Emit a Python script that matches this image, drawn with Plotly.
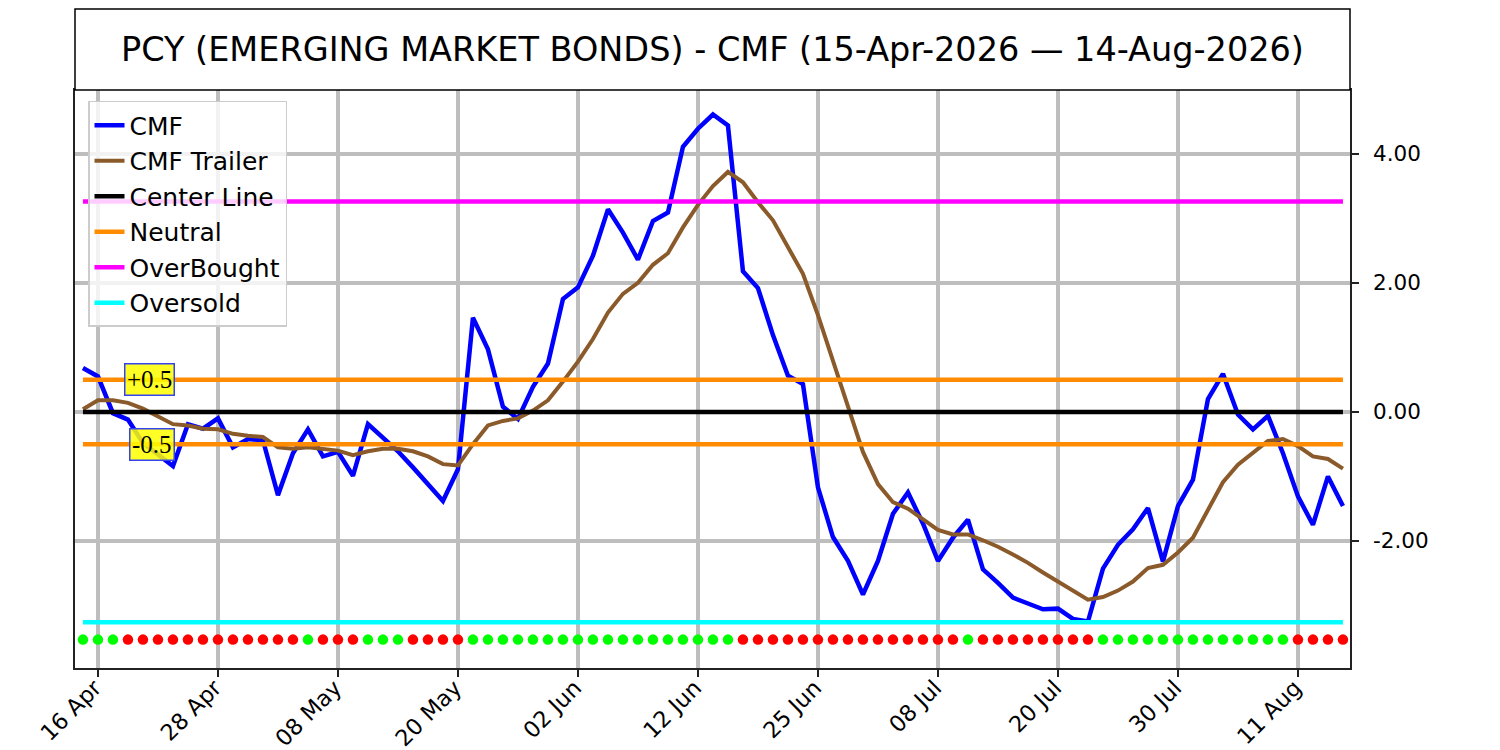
import plotly.graph_objects as go
import pandas as pd

# trading days 15-Apr-2026 .. 14-Aug-2026 (US market holidays removed)
holidays = ["2026-05-25", "2026-06-19", "2026-07-03"]
days = pd.bdate_range("2026-04-15", "2026-08-14")
days = days[~days.isin(pd.to_datetime(holidays))]
dates = [d.strftime("%Y-%m-%d") for d in days]

cmf = [0.68, 0.55, -0.02, -0.12, -0.48, -0.66, -0.84, -0.19, -0.26, -0.10,
       -0.55, -0.42, -0.44, -1.29, -0.64, -0.27, -0.69, -0.62, -0.99, -0.19,
       -0.39, -0.61, -0.86, -1.11, -1.38, -0.89, 1.46, 0.97, 0.08, -0.11,
       0.39, 0.75, 1.75, 1.93, 2.42, 3.14, 2.78, 2.36, 2.96, 3.09,
       4.11, 4.39, 4.61, 4.44, 2.18, 1.92, 1.19, 0.56, 0.43, -1.17,
       -1.94, -2.31, -2.83, -2.31, -1.58, -1.25, -1.73, -2.31, -1.95, -1.67,
       -2.44, -2.65, -2.88, -2.97, -3.06, -3.05, -3.21, -3.25, -2.43, -2.06,
       -1.82, -1.49, -2.32, -1.46, -1.05, 0.20, 0.59, -0.04, -0.27, -0.06,
       -0.64, -1.31, -1.75, -1.00, -1.46]

trailer = [0.04, 0.18, 0.18, 0.14, 0.05, -0.07, -0.19, -0.21, -0.26, -0.27,
           -0.34, -0.37, -0.39, -0.55, -0.57, -0.55, -0.58, -0.60, -0.67, -0.61,
           -0.57, -0.57, -0.61, -0.69, -0.81, -0.83, -0.50, -0.21, -0.14, -0.10,
           0.02, 0.18, 0.47, 0.78, 1.13, 1.54, 1.83, 2.00, 2.28, 2.46,
           2.86, 3.21, 3.50, 3.72, 3.56, 3.25, 2.97, 2.56, 2.14, 1.50,
           0.78, 0.05, -0.62, -1.12, -1.40, -1.50, -1.66, -1.83, -1.90, -1.90,
           -1.99, -2.09, -2.21, -2.34, -2.49, -2.63, -2.78, -2.91, -2.87, -2.77,
           -2.63, -2.42, -2.37, -2.18, -1.95, -1.51, -1.09, -0.82, -0.64, -0.45,
           -0.42, -0.53, -0.69, -0.73, -0.88]

# daily signal dots along the bottom: g = green, r = red
signal = (["g"] * 3 + ["r"] * 12 + ["g"] + ["r"] * 3 + ["g"] * 3 + ["r"] * 4
          + ["g"] * 18 + ["r"] * 15 + ["g"] + ["r"] * 8 + ["g"] * 13 + ["r"] * 4)

center_level = 0.0
neutral_levels = [0.5, -0.5]
overbought_level = 3.26
oversold_level = -3.26
dot_level = -3.53

tick_dates = dates[1::8]
tick_text = [pd.Timestamp(d).strftime("%d %b") for d in tick_dates]
y_ticks = [-2, 0, 2, 4]
y_tick_text = [f"{v:.2f}" for v in y_ticks]  # plain hyphen for negatives

font = "DejaVu Sans"
first, last = dates[0], dates[-1]

fig = go.Figure()

fig.add_trace(go.Scatter(x=dates, y=cmf, mode="lines", name="CMF",
                         line=dict(color="#0000ff", width=4.5)))
fig.add_trace(go.Scatter(x=dates, y=trailer, mode="lines", name="CMF Trailer",
                         line=dict(color="#8b5a2b", width=4)))
fig.add_trace(go.Scatter(x=[first, last], y=[center_level] * 2, mode="lines",
                         name="Center Line", line=dict(color="black", width=4.5)))
fig.add_trace(go.Scatter(
    x=[first, last, None, first, last],
    y=[neutral_levels[0]] * 2 + [None] + [neutral_levels[1]] * 2,
    mode="lines", name="Neutral", line=dict(color="#ff8c00", width=4.5)))
fig.add_trace(go.Scatter(x=[first, last], y=[overbought_level] * 2, mode="lines",
                         name="OverBought", line=dict(color="#ff00ff", width=4.5)))
fig.add_trace(go.Scatter(x=[first, last], y=[oversold_level] * 2, mode="lines",
                         name="Oversold", line=dict(color="#00ffff", width=4.5)))

# signal dots
dot_colors = ["#00ff00" if s == "g" else "#ff0000" for s in signal]
fig.add_trace(go.Scatter(x=dates, y=[dot_level] * len(dates), mode="markers",
                         marker=dict(color=dot_colors, size=10.5),
                         showlegend=False, hoverinfo="skip"))

# +0.5 / -0.5 labels
for lvl, txt in zip(neutral_levels, ["+0.5", "-0.5"]):
    fig.add_annotation(x=6.13, y=lvl, xref="x", yref="y", text=txt,
                       showarrow=False, xanchor="right", yanchor="middle",
                       font=dict(family="Liberation Serif", size=25, color="black"),
                       bgcolor="rgba(255,255,0,0.85)", bordercolor="#3344ee",
                       borderwidth=1.5, borderpad=1.5)

# title box
fig.add_shape(type="rect", xref="paper", yref="paper", x0=0, x1=1, y0=1, y1=1.14,
              line=dict(color="black", width=1.5), fillcolor="white")
fig.add_annotation(x=0.5, y=1.07, xref="paper", yref="paper", showarrow=False,
                   xanchor="center", yanchor="middle",
                   text="PCY (EMERGING MARKET BONDS) - CMF (15-Apr-2026 \u2014 14-Aug-2026)",
                   font=dict(family=font, size=33.5, color="black"))

# page body adds an 8px offset, so the figure is 8px smaller than the window
fig.update_layout(
    width=1492, height=742,
    margin=dict(l=67, r=150, t=82, b=82, autoexpand=False),
    plot_bgcolor="white", paper_bgcolor="white",
    font=dict(family=font, color="black"),
    showlegend=True,
    legend=dict(x=0.0102, y=0.981, xanchor="left", yanchor="top",
                bgcolor="rgba(255,255,255,0.8)", bordercolor="#cccccc",
                borderwidth=1.5, font=dict(size=25, family=font),
                itemwidth=30, tracegroupgap=0),
)

fig.update_xaxes(type="category", range=[-0.53, 84.47],
                 tickvals=tick_dates, ticktext=tick_text, tickangle=-45,
                 tickfont=dict(size=22.5), ticks="outside", ticklen=7,
                 tickcolor="#222222", tickwidth=1.5,
                 ticklabelstandoff=-11, ticklabelshift=-3,
                 showgrid=True, gridcolor="#bebebe", gridwidth=4,
                 showline=True, linecolor="#222222", linewidth=1.5, mirror=True,
                 zeroline=False)
fig.update_yaxes(side="right", range=[-3.97, 4.99],
                 tickvals=y_ticks, ticktext=y_tick_text,
                 tickfont=dict(size=21.5), ticks="outside",
                 ticklen=7, tickcolor="#222222", tickwidth=1.5,
                 ticklabelstandoff=10,
                 showgrid=True, gridcolor="#bebebe", gridwidth=4,
                 showline=True, linecolor="#222222", linewidth=1.5, mirror=True,
                 zeroline=False)

fig.write_html("out.html")
